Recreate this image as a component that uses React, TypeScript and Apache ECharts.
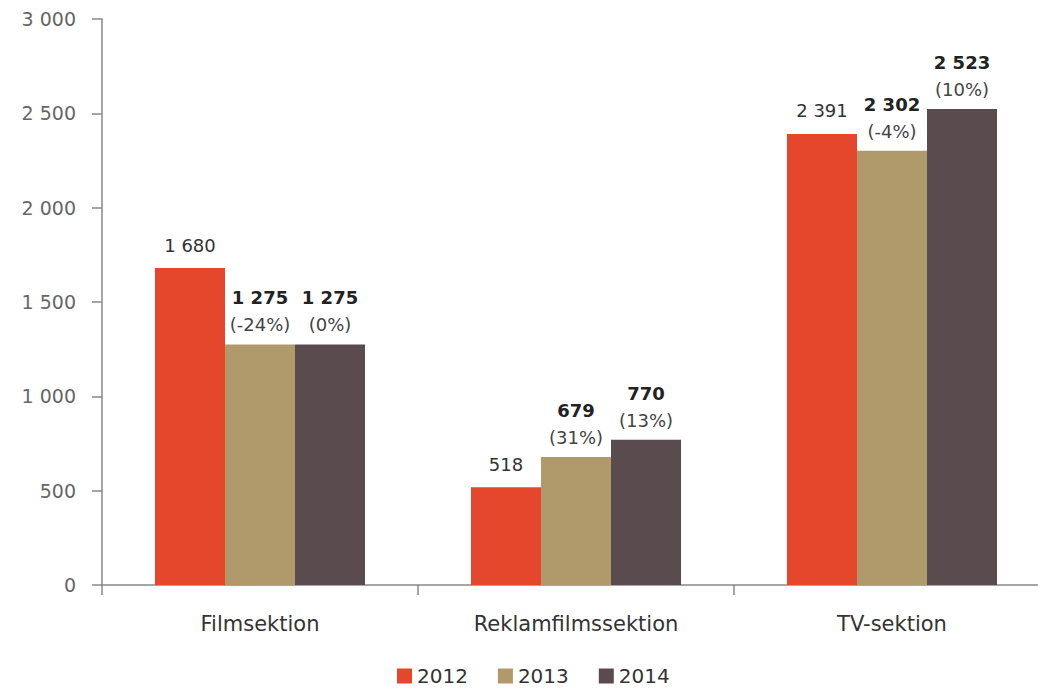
import React, { useEffect, useRef } from "react";
import * as echarts from "echarts";

const categories = ["Filmsektion", "Reklamfilmssektion", "TV-sektion"];
const years = ["2012", "2013", "2014"];
const values2012 = [1680, 518, 2391];
const values2013 = [1275, 679, 2302];
const values2014 = [1275, 770, 2523];
const change2013 = ["-24%", "31%", "-4%"];
const change2014 = ["0%", "13%", "10%"];
const yTicks = [0, 500, 1000, 1500, 2000, 2500, 3000];

const colors = ["#E4472B", "#B0996A", "#5A4B4F"];
const FONT = "'DejaVu Sans', 'Noto Sans', sans-serif";

const fmt = (v: number) => {
  const s = String(Math.round(v));
  return s.replace(/\B(?=(\d{3})+(?!\d))/g, " ");
};

export default function App() {
  const ref = useRef<HTMLDivElement>(null);
  useEffect(() => {
    document.body.style.margin = "0";
    if (!ref.current) return;
    const chart = echarts.init(ref.current, undefined, { renderer: "svg" });
    const twoLine = (changes: string[]) => ({
      show: true,
      position: "top",
      distance: 6,
      formatter: (p: any) => `{v|${fmt(p.value)}}\n{p|(${changes[p.dataIndex]})}`,
      rich: {
        v: { fontFamily: FONT, fontSize: 18, fontWeight: "bold", color: "#222", lineHeight: 27, align: "center" },
        p: { fontFamily: FONT, fontSize: 18, color: "#444", lineHeight: 27, align: "center" },
      },
    });
    chart.setOption({
      animation: false,
      textStyle: { fontFamily: FONT },
      grid: { left: 102, top: 19, right: 0, bottom: 103, containLabel: false },
      legend: {
        data: years,
        bottom: -3,
        left: 392,
        itemWidth: 15,
        itemHeight: 15,
        itemGap: 30,
        icon: "rect",
        textStyle: { fontFamily: FONT, fontSize: 20, color: "#333" },
      },
      xAxis: {
        type: "category",
        data: categories,
        boundaryGap: true,
        axisLine: { show: true, lineStyle: { color: "#888", width: 1.5 } },
        axisTick: { show: true, length: 10, interval: 0, lineStyle: { color: "#888", width: 1.5 } },
        axisLabel: { margin: 28, fontFamily: FONT, fontSize: 21, color: "#333" },
      },
      yAxis: {
        type: "value",
        min: yTicks[0],
        max: yTicks[yTicks.length - 1],
        interval: 500,
        splitLine: { show: false },
        axisLine: { show: true, lineStyle: { color: "#888", width: 1.5 } },
        axisTick: { show: true, length: 10, lineStyle: { color: "#888", width: 1.5 } },
        axisLabel: { margin: 26, fontFamily: FONT, fontSize: 19, color: "#666", formatter: (v: number) => fmt(v) },
      },
      series: [
        {
          name: years[0],
          type: "bar",
          data: values2012,
          barWidth: 70,
          barGap: "0%",
          itemStyle: { color: colors[0] },
          label: {
            show: true,
            position: "top",
            distance: 14,
            fontFamily: FONT,
            fontSize: 18,
            color: "#333",
            formatter: (p: any) => fmt(p.value),
          },
        },
        {
          name: years[1],
          type: "bar",
          data: values2013,
          barWidth: 70,
          barGap: "0%",
          itemStyle: { color: colors[1] },
          label: twoLine(change2013),
        },
        {
          name: years[2],
          type: "bar",
          data: values2014,
          barWidth: 70,
          barGap: "0%",
          itemStyle: { color: colors[2] },
          label: twoLine(change2014),
        },
      ],
    });
    return () => chart.dispose();
  }, []);
  return (
    <div style={{ width: 1038, height: 688, overflow: "hidden", position: "relative" }}>
      <div ref={ref} style={{ width: 1050, height: 688 }} />
    </div>
  );
}
